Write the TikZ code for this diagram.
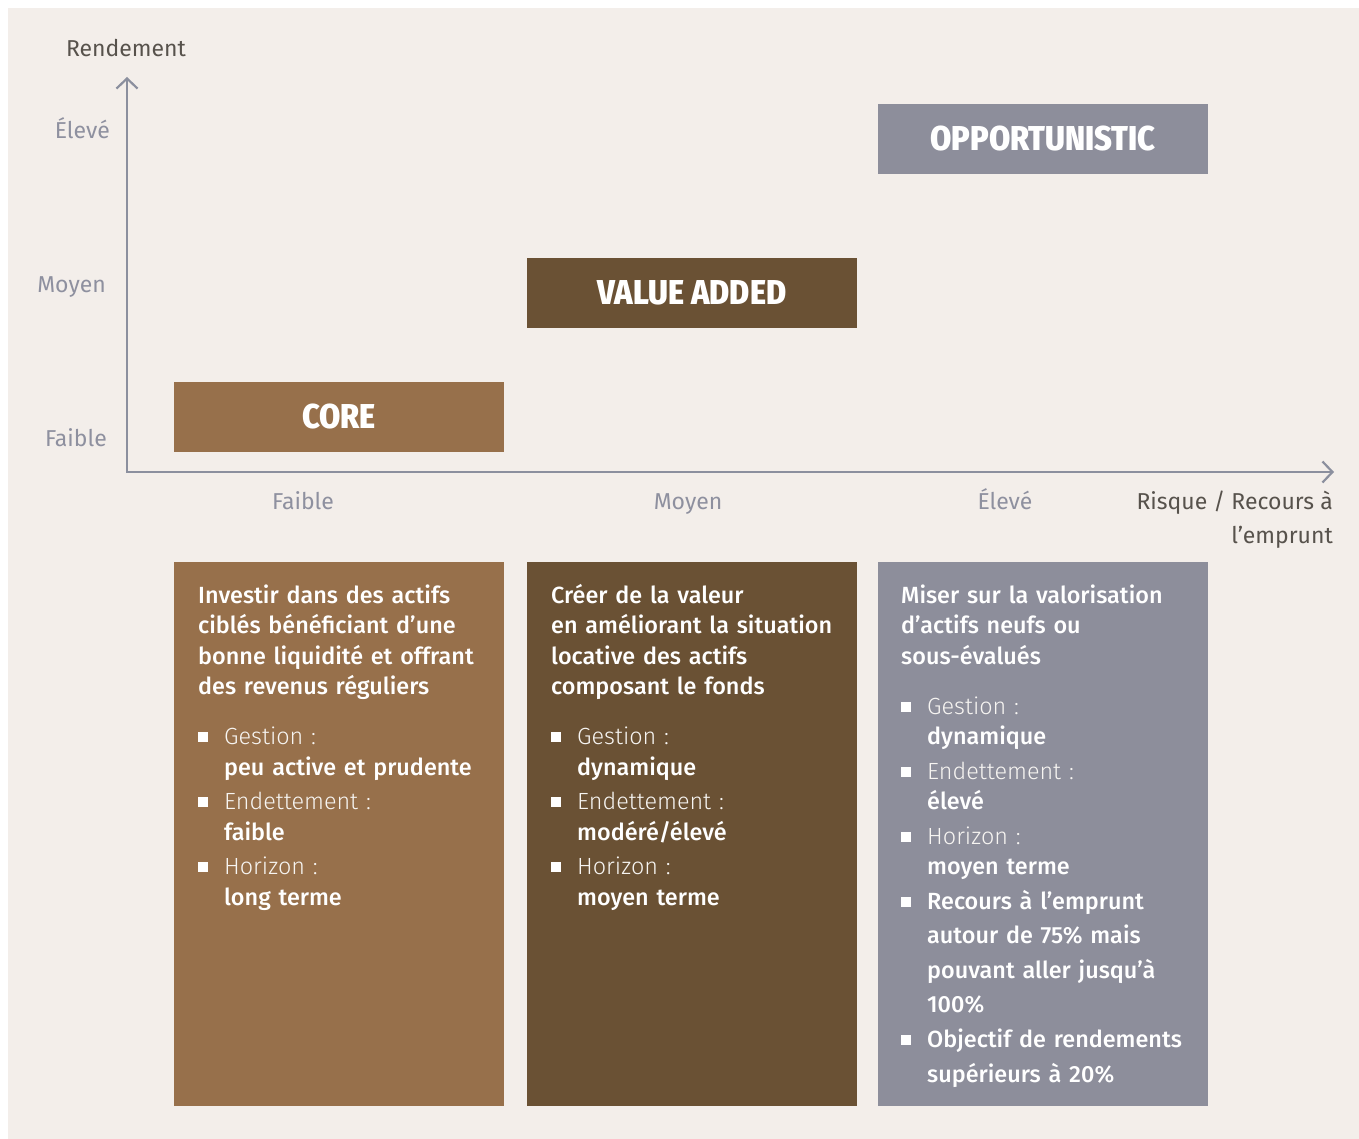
\documentclass[tikz,border=0pt]{standalone}
\usepackage{fontspec}
\usepackage{graphicx}
\setmainfont{Fira Sans}
\IfFontExistsTF{Fira Sans Light}{\newfontfamily\lightf{Fira Sans Light}}{\newcommand\lightf{\relax}}
\IfFontExistsTF{Fira Sans Medium}{\newfontfamily\medf{Fira Sans Medium}}{\newcommand\medf{\relax}}
\IfFontExistsTF{Fira Sans Condensed ExtraBold}{\newfontfamily\condf{Fira Sans Condensed ExtraBold}\newcommand\condscale{0.98}}{%
 \IfFontExistsTF{Fira Sans Condensed Bold}{\newfontfamily\condf{Fira Sans Condensed Bold}\newcommand\condscale{1}}{\newcommand\condf{\bfseries}\newcommand\condscale{0.86}}}
\usetikzlibrary{arrows.meta}
\definecolor{bgc}{HTML}{F3EEEA}
\definecolor{corec}{HTML}{97704B}
\definecolor{vac}{HTML}{6A5134}
\definecolor{oppc}{HTML}{8D8E9B}
\definecolor{axc}{HTML}{8B8F9E}
\definecolor{lblc}{HTML}{8E909F}
\definecolor{darkc}{HTML}{57524C}
\definecolor{softw}{HTML}{F7F5F2}
\newcommand\bul{\makebox[26pt][l]{\raisebox{2.5pt}{\rule{10pt}{10pt}}}}
\newcommand\ind{\hspace*{26pt}}
\newcommand\lab[1]{{\lightf\color{softw}#1}}
\begin{document}
\begin{tikzpicture}[x=1pt,y=-1pt,
  axline/.style={draw=axc, line width=2.2pt, >={Straight Barb[length=10pt,width=21pt,line width=2.2pt]}},
  ylab/.style={text=lblc, font=\fontsize{23}{27}\selectfont, inner sep=0pt, anchor=base east},
  xlab/.style={text=lblc, font=\fontsize{23}{27}\selectfont, inner sep=0pt, anchor=base},
  ttl/.style={text=darkc, font=\fontsize{23}{34}\selectfont, inner sep=0pt},
  hbox/.style={minimum width=330pt, minimum height=70pt, inner sep=0pt, text=white,
               font=\fontsize{34.5}{38}\selectfont\condf},
  dbox/.style={minimum width=330pt, minimum height=544pt, inner sep=0pt, anchor=north west},
  dtext/.style={anchor=base west, inner sep=0pt, text width=305pt, align=left, text=white,
                font=\fontsize{23.4}{30.5}\selectfont\medf},
]
\useasboundingbox (0,0) rectangle (1359,1139);
\fill[bgc] (8,8) rectangle (1359,1139);

% axes
\coordinate (ytip) at (127,77);
\coordinate (orig) at (127,472);
\coordinate (xtip) at (1334,472);
\draw[axline, <->] (ytip) -- (orig) -- (xtip);

\node[ttl, anchor=base] (rend) at (126,57) {Rendement};
\node[ylab] (yhigh) at (110,139) {Élevé};
\node[ylab] (ymid) at (106,293) {Moyen};
\node[ylab] (ylow) at (107,446) {Faible};
\node[xlab] (xlow) at (303,509) {Faible};
\node[xlab] (xmid) at (688,509) {Moyen};
\node[xlab] (xhigh) at (1005,509) {Élevé};
\node[ttl, anchor=base east, align=right] (risk) at (1333,543) {Risque / Recours à\\l’emprunt};

% strategy boxes on the chart
\node[hbox, fill=corec] (core) at (339,416.5) {\scalebox{\condscale}[1]{CORE}};
\node[hbox, fill=vac] (va) at (692,293) {\scalebox{\condscale}[1]{VALUE ADDED}};
\node[hbox, fill=oppc] (opp) at (1043,139) {\scalebox{\condscale}[1]{OPPORTUNISTIC}};

% description boxes
\node[dbox, fill=corec] (cored) at (174,562) {};
\node[dbox, fill=vac] (vad) at (527,562) {};
\node[dbox, fill=oppc] (oppd) at (878,562) {};

\node[dtext] (coret) at (198,603) {Investir dans des actifs\\
ciblés bénéficiant d’une\\
bonne liquidité et offrant\\
des revenus réguliers\\[19.5pt]
\bul\lab{Gestion :}\\[0.5pt]
\ind peu active et prudente\\[3.5pt]
\bul\lab{Endettement :}\\[0.5pt]
\ind faible\\[3.5pt]
\bul\lab{Horizon :}\\[0.5pt]
\ind long terme};

\node[dtext] (vat) at (551,603) {Créer de la valeur\\
en améliorant la situation\\
locative des actifs\\
composant le fonds\\[19.5pt]
\bul\lab{Gestion :}\\[0.5pt]
\ind dynamique\\[3.5pt]
\bul\lab{Endettement :}\\[0.5pt]
\ind modéré/élevé\\[3.5pt]
\bul\lab{Horizon :}\\[0.5pt]
\ind moyen terme};

\node[dtext] (oppt) at (901,603) {Miser sur la valorisation\\
d’actifs neufs ou\\
sous-évalués\\[19.5pt]
\bul\lab{Gestion :}\\[-0.5pt]
\ind dynamique\\[4.5pt]
\bul\lab{Endettement :}\\[-0.5pt]
\ind élevé\\[4.5pt]
\bul\lab{Horizon :}\\[-0.5pt]
\ind moyen terme\\[4.5pt]
\bul Recours à l’emprunt\\[4pt]
\ind autour de 75\% mais\\[4pt]
\ind pouvant aller jusqu’à\\[4pt]
\ind 100\%\\[4.5pt]
\bul Objectif de rendements\\[4pt]
\ind supérieurs à 20\%};
\end{tikzpicture}
\end{document}
